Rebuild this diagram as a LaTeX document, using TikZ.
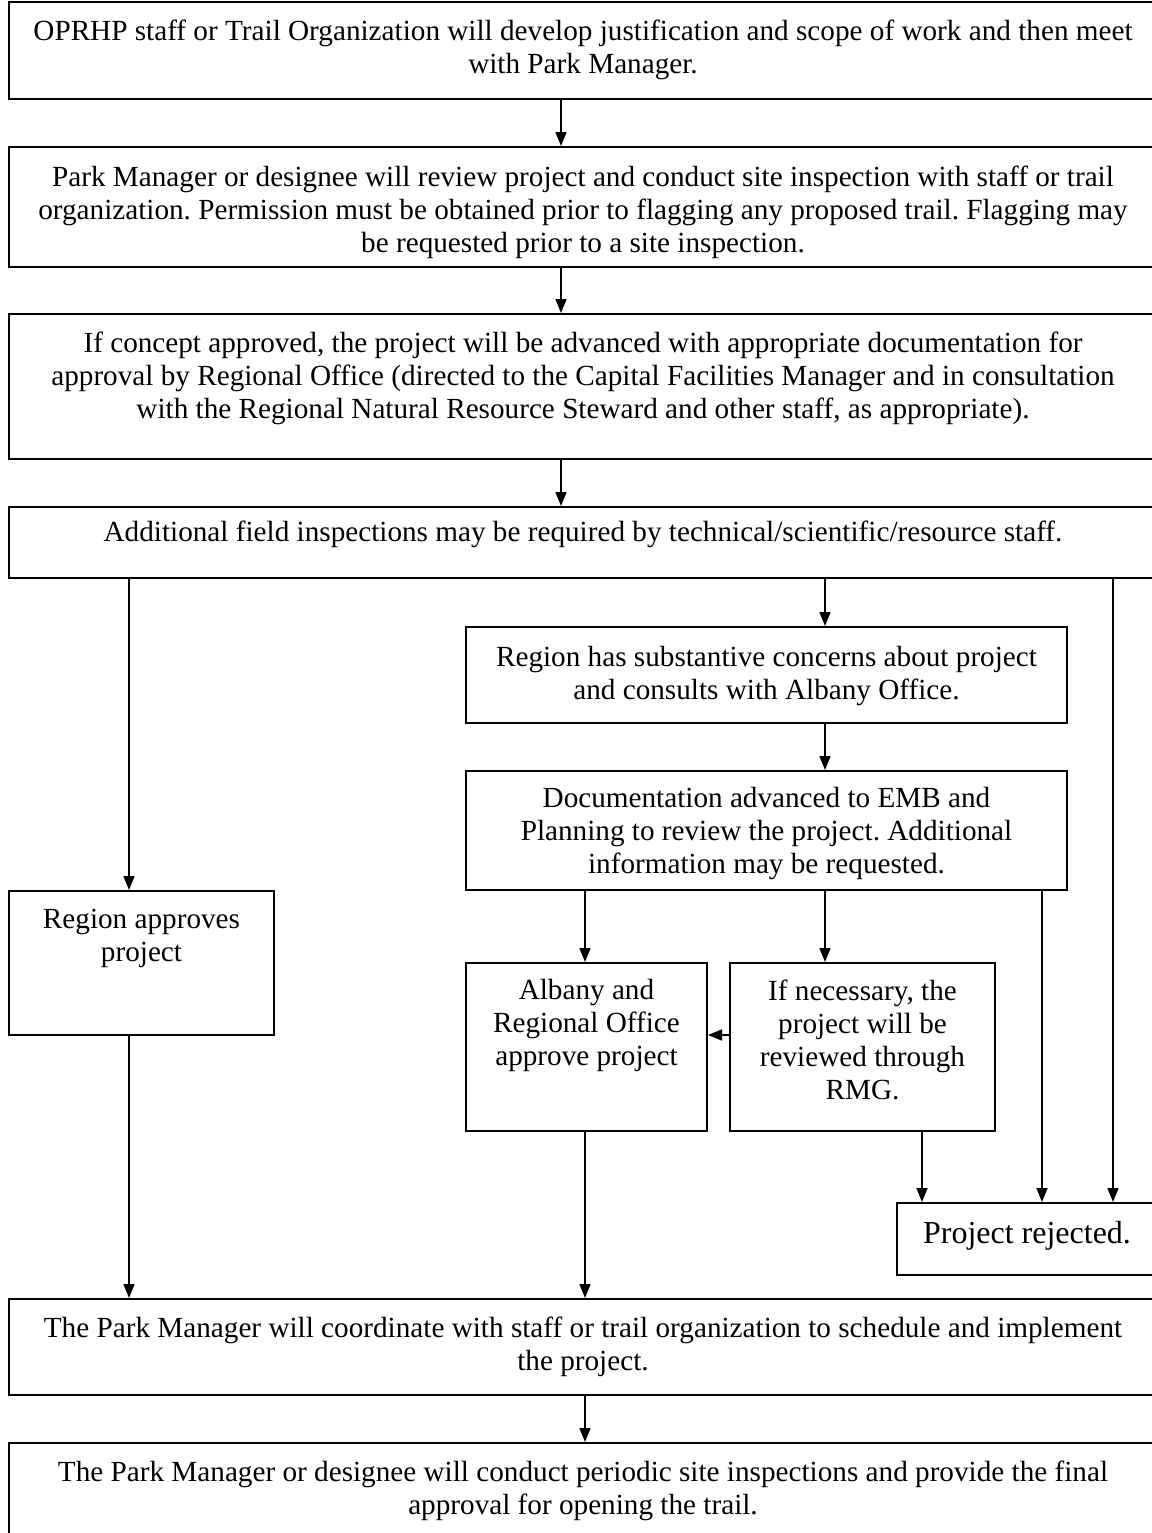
\documentclass[tikz,border=0pt]{standalone}
\usepackage{fontspec}
\setmainfont{Liberation Serif}
\usepackage{tikz}
\usetikzlibrary{positioning, arrows.meta}
\frenchspacing

\begin{document}
\begin{tikzpicture}[
    x=0.5pt, y=-0.5pt,
    stepbox/.style={draw, line width=1pt, anchor=north west, inner sep=0pt},
    txt/.style={align=center, inner sep=0pt, font=\fontsize{14.6}{16.5}\selectfont},
    txtbig/.style={txt, font=\fontsize{16}{19}\selectfont},
    arr/.style={-{Triangle[length=7pt, width=5.5pt]}, line width=0.75pt}
]
    \useasboundingbox (0,0) rectangle (1152,1533);

    % Main column
    \node[stepbox, minimum width=574pt, minimum height=48.5pt] (b1) at (8,1) {};
    \node[stepbox, minimum width=574pt, minimum height=60pt] (b2) at (8,146) {};
    \node[stepbox, minimum width=574pt, minimum height=72.5pt] (b3) at (8,313) {};
    \node[stepbox, minimum width=574pt, minimum height=35.5pt] (b4) at (8,506) {};

    \node[txt, below=9.3pt of b1.north] (t1) {OPRHP staff or Trail Organization will develop justification and scope of work and then meet\\with Park Manager.};
    \node[txt, below=9.8pt of b2.north] (t2) {Park Manager or designee will review project and conduct site inspection with staff or trail\\organization. Permission must be obtained prior to flagging any proposed trail. Flagging may\\be requested prior to a site inspection.};
    \node[txt, below=9.3pt of b3.north] (t3) {If concept approved, the project will be advanced with appropriate documentation for\\approval by Regional Office (directed to the Capital Facilities Manager and in consultation\\with the Regional Natural Resource Steward and other staff, as appropriate).};
    \node[txt, below=7.5pt of b4.north] (t4) {Additional field inspections may be required by technical/scientific/resource staff.};

    % Branches
    \node[stepbox, minimum width=300.5pt, minimum height=48pt] (concern) at (465,626) {};
    \node[stepbox, minimum width=300.5pt, minimum height=59.5pt] (docs) at (465,770) {};
    \node[stepbox, minimum width=132.5pt, minimum height=72pt] (approve) at (8,890) {};
    \node[stepbox, minimum width=120.5pt, minimum height=84pt] (albany) at (465,962) {};
    \node[stepbox, minimum width=132.5pt, minimum height=84pt] (rmg) at (729,962) {};
    \node[stepbox, minimum width=130pt, minimum height=36pt] (reject) at (896,1202) {};

    \node[txt, below=10pt of concern.north] (tconcern) {Region has substantive concerns about project\\and consults with Albany Office.};
    \node[txt, below=8.3pt of docs.north] (tdocs) {Documentation advanced to EMB and\\Planning to review the project. Additional\\information may be requested.};
    \node[txt, below=9.6pt of approve.north] (tapprove) {Region approves\\project};
    \node[txt, below=8.6pt of albany.north] (talbany) {Albany and\\Regional Office\\approve project};
    \node[txt, below=8.6pt of rmg.north] (trmg) {If necessary, the\\project will be\\reviewed through\\RMG.};
    \node[txtbig, below=9.2pt of reject.north] (treject) {Project rejected.};

    % Final steps
    \node[stepbox, minimum width=574pt, minimum height=48pt] (coord) at (8,1298) {};
    \node[stepbox, minimum width=574pt, minimum height=55pt] (final) at (8,1442) {};

    \node[txt, below=9.3pt of coord.north] (tcoord) {The Park Manager will coordinate with staff or trail organization to schedule and implement\\the project.};
    \node[txt, below=9.3pt of final.north] (tfinal) {The Park Manager or designee will conduct periodic site inspections and provide the final\\approval for opening the trail.};

    % Connector positions
    \coordinate (xmain) at (561,0);
    \coordinate (xleft) at (129,0);
    \coordinate (xmid) at (825,0);
    \coordinate (xlow) at (585,0);
    \coordinate (xrmg) at (922,0);
    \coordinate (xdocs) at (1042,0);
    \coordinate (xright) at (1113,0);
    \coordinate (yside) at (0,1035);

    % Connections
    \draw[arr] (b1.south -| xmain) -- (b2.north -| xmain);
    \draw[arr] (b2.south -| xmain) -- (b3.north -| xmain);
    \draw[arr] (b3.south -| xmain) -- (b4.north -| xmain);

    \draw[arr] (b4.south -| xleft) -- (approve.north -| xleft);
    \draw[arr] (b4.south -| xmid) -- (concern.north -| xmid);
    \draw[arr] (b4.south -| xright) -- (reject.north -| xright);

    \draw[arr] (concern.south -| xmid) -- (docs.north -| xmid);
    \draw[arr] (docs.south -| xlow) -- (albany.north -| xlow);
    \draw[arr] (docs.south -| xmid) -- (rmg.north -| xmid);
    \draw[arr] (docs.south -| xdocs) -- (reject.north -| xdocs);

    \draw[arr] (rmg.west |- yside) -- (albany.east |- yside);
    \draw[arr] (rmg.south -| xrmg) -- (reject.north -| xrmg);

    \draw[arr] (approve.south -| xleft) -- (coord.north -| xleft);
    \draw[arr] (albany.south -| xlow) -- (coord.north -| xlow);
    \draw[arr] (coord.south -| xlow) -- (final.north -| xlow);
\end{tikzpicture}
\end{document}
